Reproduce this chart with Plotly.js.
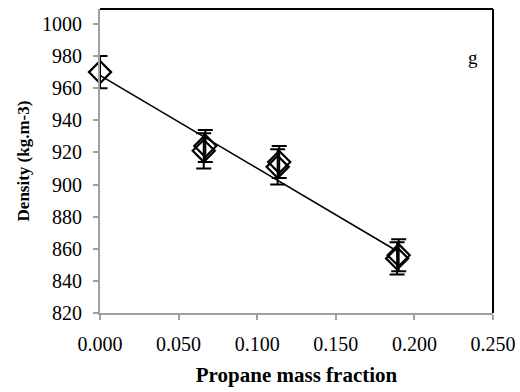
<!DOCTYPE html>
<html>
<head>
<meta charset="utf-8">
<script src="https://cdn.plot.ly/plotly-3.0.1.min.js"></script>
<style>html,body{margin:0;padding:0;background:#fff;}#chart{width:520px;height:392px;}</style>
</head>
<body>
<div id="chart"></div>
<script>
// Measured points (replicates overlap)
const massFraction = [0.000, 0.066, 0.067, 0.113, 0.114, 0.189, 0.190];
const density      = [970,   921,   924,   911,   914,   854,   856];
const densityErr   = [10,    11,    10,    11,    10,    10,    10];
// Linear trend line
const trendX = [0.000, 0.190];
const trendY = [968, 858];
// Axis ticks
const xTicks = [0.000, 0.050, 0.100, 0.150, 0.200, 0.250];
const yTicks = [820, 840, 860, 880, 900, 920, 940, 960, 980, 1000];
const panelLabel = 'g';

const font = '"Liberation Serif", "Times New Roman", serif';
const traces = [
  {x: trendX, y: trendY, mode: 'lines', line: {color: '#000', width: 1.6}, hoverinfo: 'skip', cliponaxis: false},
  {x: massFraction, y: density, mode: 'markers', cliponaxis: false,
   marker: {symbol: 'diamond-open', size: 17, color: '#000', line: {width: 2.2, color: '#000'}},
   error_y: {type: 'data', array: densityErr, visible: true, color: '#000', thickness: 2, width: 7.5}}
];
const layout = {
  width: 520, height: 392,
  margin: {l: 100, r: 27, t: 9, b: 79},
  paper_bgcolor: '#fff', plot_bgcolor: '#fff',
  showlegend: false,
  font: {family: font, color: '#000', size: 20},
  xaxis: {range: [0, 0.25], tickvals: xTicks, ticktext: xTicks.map(v => v.toFixed(3)),
          showgrid: false, zeroline: false, showline: true, linecolor: '#a0a0a0', linewidth: 2,
          ticks: 'outside', ticklen: 5, tickwidth: 2, tickcolor: '#a0a0a0', ticklabelstandoff: 7,
          tickfont: {family: font, size: 20, color: '#000'},
          title: {text: '<b>Propane mass fraction</b>', font: {family: font, size: 21, color: '#000'}, standoff: 13}},
  yaxis: {range: [820, 1009.3], tickvals: yTicks,
          showgrid: false, zeroline: false, showline: true, linecolor: '#a0a0a0', linewidth: 2,
          ticks: 'outside', ticklen: 5, tickwidth: 2, tickcolor: '#a0a0a0', ticklabelstandoff: 7,
          tickfont: {family: font, size: 20, color: '#000'},
          title: {text: '<b>Density (kg.m-3)</b>', font: {family: font, size: 17, color: '#000'}, standoff: 8}},
  shapes: [
    {type: 'line', xref: 'paper', yref: 'paper', x0: 0, x1: 1, y0: 1, y1: 1, line: {color: '#000', width: 2}},
    {type: 'line', xref: 'paper', yref: 'paper', x0: 1, x1: 1, y0: 0, y1: 1, line: {color: '#000', width: 2}}
  ],
  annotations: [
    {text: panelLabel, xref: 'paper', yref: 'paper', x: 0.967, y: 0.882, showarrow: false,
     font: {family: font, size: 19, color: '#000'}}
  ]
};
Plotly.newPlot('chart', traces, layout, {displayModeBar: false, staticPlot: true});
</script>
</body>
</html>
